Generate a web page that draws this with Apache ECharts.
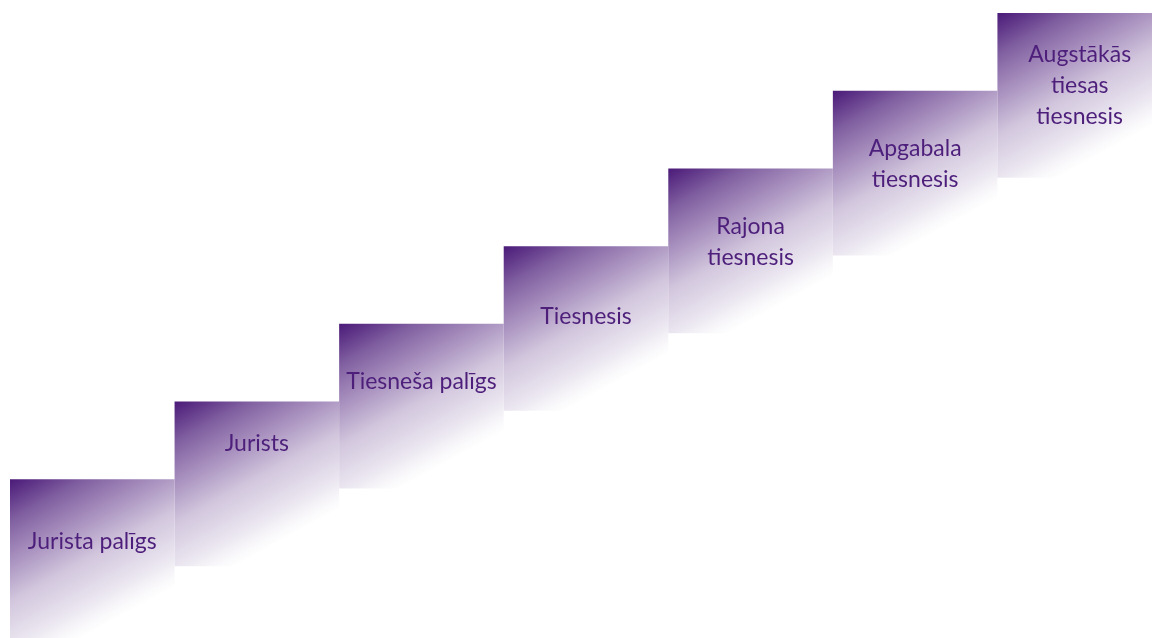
<!DOCTYPE html>
<html>
<head>
<meta charset="utf-8">
<script src="https://cdn.jsdelivr.net/npm/echarts@6/dist/echarts.min.js"></script>
<style>
  html, body { margin: 0; padding: 0; background: #ffffff; overflow: hidden; }
  /* a bit larger than the window: last step and first step run off the edges */
  #steps { width: 1162px; height: 644px; }
</style>
</head>
<body>
<div id="steps"></div>
<script>
// career steps, bottom to top
var steps = ["Jurista palīgs", "Jurists", "Tiesneša palīgs", "Tiesnesis", "Rajona\ntiesnesis", "Apgabala\ntiesnesis", "Augstākās\ntiesas\ntiesnesis"];
// level each step starts at (in step units)
var stepBase = [0, 1, 2, 3, 4, 5, 6];
// height of each step block (in step units)
var stepHeight = [2.12, 2.12, 2.12, 2.12, 2.12, 2.12, 2.12];

// where the text centre sits inside each block, px from its top
var labelTop = [62, 42, 58, 70, 74, 73, 73];

var myChart = echarts.init(document.getElementById("steps"));

// dark purple in the top-left corner fading to white towards the bottom
var fill = new echarts.graphic.LinearGradient(0, 0, 0.507, 0.921, [
  { offset: 0, color: "#4a1a78" },
  { offset: 0.1, color: "#633a8b" },
  { offset: 0.21, color: "#805fa0" },
  { offset: 0.42, color: "#aa93c0" },
  { offset: 0.62, color: "#d2c6dd" },
  { offset: 0.83, color: "#e9e4ef" },
  { offset: 0.92, color: "#f6f4f8" },
  { offset: 1, color: "#ffffff" }
]);

var blocks = [];
for (var i = 0; i < steps.length; i++) {
  blocks.push({
    value: stepHeight[i],
    label: { position: ["50%", labelTop[i]] }
  });
}

var option = {
  animation: false,
  grid: { left: 10, right: 0, top: 13, bottom: 0 },
  xAxis: {
    type: "category",
    data: steps,
    show: false
  },
  yAxis: {
    type: "value",
    min: 0,
    max: 8.12,
    show: false
  },
  series: [
    {
      name: "base",
      type: "bar",
      stack: "steps",
      barWidth: "100%",
      itemStyle: { color: "transparent" },
      silent: true,
      data: stepBase
    },
    {
      name: "step",
      type: "bar",
      stack: "steps",
      barWidth: "100%",
      itemStyle: { color: fill },
      label: {
        show: true,
        formatter: function (p) { return p.name; },
        align: "center",
        verticalAlign: "middle",
        color: "#4d1f7b",
        fontFamily: "Lato",
        fontSize: 23,
        lineHeight: 31
      },
      data: blocks
    }
  ]
};
myChart.setOption(option);
</script>
</body>
</html>
